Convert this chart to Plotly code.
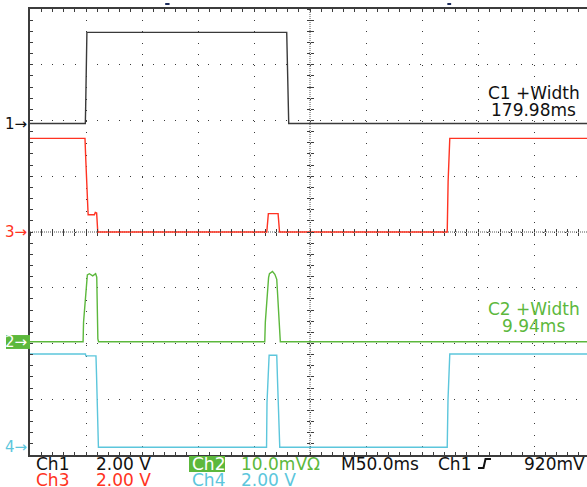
import plotly.graph_objects as go

# ---------------- data (time in ms, 50 ms/div; values in channel units) -------------
XMAX = 497.3  # visible right edge (ms)

ch1_t = [0, 49.4, 49.7, 50.8, 229.2, 230.1, 231.0, XMAX]
ch1_v = [0, 0, 0.6, 3.27, 3.27, 1.4, 0, 0]

ch3_t = [0, 49.1, 49.8, 51.9, 57.5, 58.3, 59.5, 60.0, 60.5, 211.4, 212.2, 212.8,
         221.5, 222.3, 222.8, 372.5, 373.3, 374.8, XMAX]
ch3_v = [3.36, 3.36, 2.6, 0.62, 0.62, 0.70, 0.68, 0.3, 0, 0, 0.62, 0.66,
         0.66, 0.1, 0, 0, 1.8, 3.36, 3.36]

ch2_t = [0, 47.4, 47.8, 50.6, 51.2, 53.0, 56.0, 58.6, 59.6, 60.6, 61.2,
         209.6, 210.1, 213.0, 213.8, 216.5, 218.6, 220.3, 222.8, 223.5, XMAX]
ch2_v = [0, 0, 3.5, 11.0, 12.0, 12.2, 11.8, 12.2, 11.6, 0.5, 0,
         0, 3.5, 11.5, 12.2, 12.6, 12.1, 11.2, 0.5, 0, 0]

ch4_t = [0, 49.5, 49.8, 58.9, 59.4, 60.6, 61.1, 211.2, 211.6, 213.5, 220.3,
         221.0, 223.0, 372.5, 373.2, 374.8, XMAX]
ch4_v = [3.35, 3.35, 3.28, 3.28, 2.6, 0.3, 0, 0, 1.6, 3.3, 3.3,
         2.4, 0, 0, 1.7, 3.35, 3.35]

# channel settings: volts(or mV)/div and ground offset in divisions
ch_scale = {"1": 2.0, "2": 10.0, "3": 2.0, "4": 2.0}
ch_offset = {"1": 1.946, "2": -1.968, "3": 0.0, "4": -3.862}

C_BLACK = "#111111"
C_TRACE1 = "#3a3a3a"
C_RED = "#ff3322"
C_GREEN = "#5cb83c"
C_CYAN = "#5cc6dc"

W, H = 587, 487
ML, MT, MB = 30, 9, 32
PW, PH = W - ML, H - MT - MB


def px2paper_x(px):
    return (px - ML) / PW


def py2paper_y(py):
    return (H - MB - py) / PH


def to_div(vals, ch):
    return [ch_offset[ch] + v / ch_scale[ch] for v in vals]


fig = go.Figure()

for t, v, ch, col in [(ch1_t, ch1_v, "1", C_TRACE1), (ch3_t, ch3_v, "3", C_RED),
                      (ch2_t, ch2_v, "2", C_GREEN), (ch4_t, ch4_v, "4", C_CYAN)]:
    fig.add_trace(go.Scatter(x=t, y=to_div(v, ch), mode="lines",
                             line=dict(color=col, width=1.4), hoverinfo="skip",
                             showlegend=False))

# dummy traces so the centre tick axes are drawn
for xa, ya in [("x2", "y"), ("x3", "y"), ("x", "y2"), ("x", "y3")]:
    fig.add_trace(go.Scatter(x=[None], y=[None], xaxis=xa, yaxis=ya,
                             showlegend=False, hoverinfo="skip"))

BORDER = "#3c3c3c"
GRID = "#3a3a3a"

fig.update_layout(
    width=W, height=H,
    margin=dict(l=ML, r=0, t=MT, b=MB, pad=0, autoexpand=False),
    paper_bgcolor="white", plot_bgcolor="white",
    xaxis=dict(range=[0, XMAX], tick0=0, dtick=50, showticklabels=False,
               showgrid=True, gridcolor=GRID, gridwidth=1, griddash="1px,10.2px",
               zeroline=False, showline=True, linecolor=BORDER, linewidth=1.5,
               mirror="ticks", ticks="inside", ticklen=3, tickcolor=BORDER,
               automargin=False,
               minor=dict(dtick=10, tick0=0, ticks="inside", ticklen=3,
                          tickcolor=BORDER, showgrid=False)),
    yaxis=dict(range=[-4, 4], tick0=0, dtick=1, showticklabels=False,
               showgrid=True, gridcolor=GRID, gridwidth=1, griddash="1px,10.15px",
               zeroline=False, showline=True, linecolor=BORDER, linewidth=1.5,
               mirror=False, ticks="inside", ticklen=3, tickcolor=BORDER,
               automargin=False,
               minor=dict(dtick=0.2, tick0=0, ticks="inside", ticklen=3,
                          tickcolor=BORDER, showgrid=False)),
    xaxis2=dict(overlaying="x", anchor="free", position=0.5, range=[0, XMAX],
                tick0=0, dtick=10, ticks="inside", ticklen=3, tickcolor=BORDER,
                showticklabels=False, showgrid=False, zeroline=False, showline=False,
                automargin=False),
    xaxis3=dict(overlaying="x", anchor="free", position=0.5, range=[0, XMAX],
                tick0=0, dtick=10, ticks="outside", ticklen=3, tickcolor=BORDER,
                showticklabels=False, showgrid=False, zeroline=False, showline=False,
                automargin=False),
    yaxis2=dict(overlaying="y", anchor="free", position=250 / XMAX, range=[-4, 4],
                tick0=0, dtick=0.2, ticks="inside", ticklen=3, tickcolor=BORDER,
                showticklabels=False, showgrid=False, zeroline=False, showline=False,
                automargin=False),
    yaxis3=dict(overlaying="y", anchor="free", position=250 / XMAX, range=[-4, 4],
                tick0=0, dtick=0.2, ticks="outside", ticklen=3, tickcolor=BORDER,
                showticklabels=False, showgrid=False, zeroline=False, showline=False,
                automargin=False),
    font=dict(family="DejaVu Sans", size=17, color=C_BLACK),
)

shapes = []
# centre dense dotted lines
shapes.append(dict(type="line", xref="x", yref="paper", x0=250, x1=250, y0=0, y1=1,
                   line=dict(color="#555555", width=1, dash="1px,1px"), layer="below"))
shapes.append(dict(type="line", xref="paper", yref="y", x0=0, x1=1, y0=0, y1=0,
                   line=dict(color="#555555", width=1, dash="1px,1px"), layer="below"))
# trigger position marks above the graticule
for xa, xb in [(120.7, 124.6), (372.6, 376.0)]:
    shapes.append(dict(type="line", xref="x", yref="paper", x0=xa, x1=xb,
                       y0=py2paper_y(4), y1=py2paper_y(4),
                       line=dict(color="#1c2c5c", width=2)))
# green label box for channel 2 marker
shapes.append(dict(type="rect", xref="paper", yref="y",
                   x0=px2paper_x(6), x1=px2paper_x(30),
                   y0=ch_offset["2"] - 0.13, y1=ch_offset["2"] + 0.12,
                   fillcolor=C_GREEN, line=dict(width=0)))
# green box behind "Ch2" in the status line
shapes.append(dict(type="rect", xref="paper", yref="paper",
                   x0=px2paper_x(189), x1=px2paper_x(225),
                   y0=py2paper_y(472), y1=py2paper_y(456),
                   fillcolor=C_GREEN, line=dict(width=0)))
# rising edge trigger symbol
pts = [(478, 468), (483.5, 468), (485.5, 459), (491, 459)]
path = "M " + " L ".join(f"{px2paper_x(a):.5f},{py2paper_y(b):.5f}" for a, b in pts)
shapes.append(dict(type="path", xref="paper", yref="paper", path=path,
                   line=dict(color=C_BLACK, width=2)))
fig.update_layout(shapes=shapes)

ann = []
# channel ground markers
for ch, col in [("1", C_BLACK), ("2", "white"), ("3", C_RED), ("4", C_CYAN)]:
    ann.append(dict(xref="paper", yref="y", x=px2paper_x(29), y=ch_offset[ch],
                    text=f"{ch}→", showarrow=False, xanchor="right", yanchor="middle",
                    font=dict(size=15, color=col, family="DejaVu Sans")))
# measurement readouts
for txt, py, col in [("C1 +Width", 93, C_BLACK), ("179.98ms", 110, C_BLACK),
                     ("C2 +Width", 308.5, C_GREEN), ("9.94ms", 325.5, C_GREEN)]:
    ann.append(dict(xref="paper", yref="paper", x=px2paper_x(533.5), y=py2paper_y(py),
                    text=txt, showarrow=False, xanchor="center", yanchor="middle",
                    font=dict(size=17, color=col)))
# status lines
row1 = [("Ch1", 35, C_BLACK), ("2.00 V", 95, C_BLACK), ("Ch2", 191, "white"),
        ("10.0mVΩ", 240, C_GREEN), ("M50.0ms", 340, C_BLACK), ("Ch1", 437, C_BLACK),
        ("920mV", 523, C_BLACK)]
row2 = [("Ch3", 35, C_RED), ("2.00 V", 95, C_RED), ("Ch4", 191, C_CYAN),
        ("2.00 V", 240, C_CYAN)]
for items, py in [(row1, 464), (row2, 480)]:
    for txt, px, col in items:
        ann.append(dict(xref="paper", yref="paper", x=px2paper_x(px), y=py2paper_y(py),
                        text=txt, showarrow=False, xanchor="left", yanchor="middle",
                        height=14, valign="middle", borderpad=0,
                        font=dict(size=17, color=col)))
fig.update_layout(annotations=ann)

fig.write_html(
    "out.html",
    config={"displayModeBar": False},
    post_script="document.body.style.margin='0';document.body.style.overflow='hidden';",
)
